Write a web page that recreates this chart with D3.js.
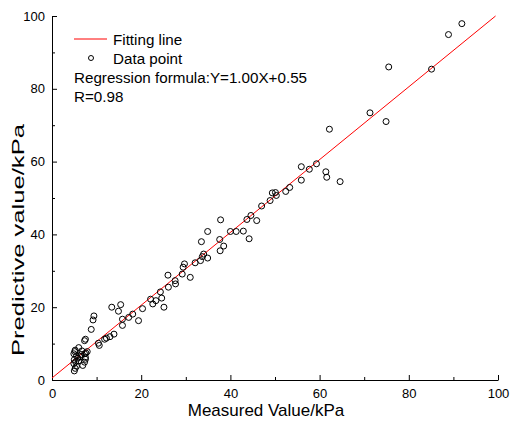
<!DOCTYPE html>
<html>
<head>
<meta charset="utf-8">
<script src="https://cdn.jsdelivr.net/npm/d3@7"></script>
<style>
  html, body { margin: 0; padding: 0; background: #fff; }
  svg { display: block; font-family: "Liberation Sans", Arial, sans-serif; }
</style>
</head>
<body>
<svg id="chart" width="514" height="426"></svg>
<script>
// measured / predictive values (kPa)
const measured = [
    91.9, 88.9, 75.5, 85.1, 71.3, 74.9,
    62.2, 59.3, 55.9, 57.7, 61.4, 61.6, 55.9, 64.6, 53.3, 52.4,
    49.4, 50.1, 50.3, 48.9, 47.0, 44.6, 43.7, 45.9, 37.8,
    34.9, 40.0, 41.3, 42.9, 37.6, 44.2, 38.5, 37.7, 33.5,
    34.0, 34.9, 33.7, 33.3,
    32.1, 29.7, 29.4, 29.2, 31.0, 26.0, 27.6, 27.7, 26.1, 24.3, 24.6, 23.3, 22.1, 22.6, 25.1,
    20.3, 18.1, 17.2, 15.8, 19.4, 15.8, 15.4, 14.9, 13.4,
    13.9, 13.0, 12.2, 11.8, 10.6, 10.4, 9.4, 9.2, 8.8, 7.3, 7.5,
    5.0, 5.2, 5.5, 4.9, 5.3, 6.0, 5.0, 6.9, 7.3, 7.5, 6.3, 5.5, 4.9, 7.6, 7.3,
    6.7, 5.2, 6.0, 5.1, 7.5, 5.8, 6.5, 7.9
];
const predicted = [
    97.9, 94.9, 86.0, 85.4, 73.4, 71.0,
    68.9, 59.4, 58.6, 57.9, 57.2, 55.7, 54.9, 54.5, 52.9, 51.8,
    51.4, 51.5, 50.7, 49.3, 47.8, 45.2, 44.1, 43.8, 44.0,
    40.8, 40.8, 40.8, 40.9, 38.6, 38.8, 36.8, 35.5, 38.0,
    34.6, 33.5, 33.9, 32.8,
    32.2, 31.9, 31.0, 29.1, 28.2, 28.8, 27.3, 26.4, 25.5, 24.2, 22.5, 21.8, 22.2, 20.9, 20.0,
    19.6, 18.1, 17.2, 16.7, 16.3, 15.0, 20.7, 18.9, 20.0,
    12.6, 11.9, 11.5, 11.2, 9.5, 10.1, 17.6, 16.5, 13.9, 10.8, 11.2,
    2.5, 3.2, 3.8, 4.5, 5.0, 5.3, 5.6, 4.0, 4.9, 5.7, 6.4, 6.6, 7.2, 7.4, 7.2,
    8.0, 8.2, 8.9, 7.8, 6.2, 6.0, 7.0, 7.8
];
const fitSlope = 1.00;
const fitIntercept = 0.55;
const rValue = 0.98;
const xTicks = [0, 20, 40, 60, 80, 100];
const yTicks = [0, 20, 40, 60, 80, 100];
const minorTicks = [10, 30, 50, 70, 90];

const svg = d3.select('#chart');

const x = d3.scaleLinear().domain([0, 100]).range([52, 498]);
const y = d3.scaleLinear().domain([0, 100]).range([380, 16]);

// axes (ticks point inward)
svg.append('g')
    .attr('transform', 'translate(0,' + y(0) + ')')
    .call(d3.axisBottom(x).tickValues(xTicks).tickSizeInner(-5).tickSizeOuter(0).tickPadding(9))
    .call(g => g.selectAll('text').attr('font-size', 13).attr('fill', '#000'))
    .call(g => g.selectAll('line, path').attr('stroke', '#000'));

svg.append('g')
    .attr('transform', 'translate(0,' + y(0) + ')')
    .call(d3.axisBottom(x).tickValues(minorTicks).tickSizeInner(-3).tickSizeOuter(0).tickFormat(''))
    .call(g => g.select('.domain').remove())
    .call(g => g.selectAll('line').attr('stroke', '#000'));

svg.append('g')
    .attr('transform', 'translate(' + x(0) + ',0)')
    .call(d3.axisLeft(y).tickValues(yTicks).tickSizeInner(-5).tickSizeOuter(0).tickPadding(7))
    .call(g => g.selectAll('text').attr('font-size', 13).attr('fill', '#000'))
    .call(g => g.selectAll('line, path').attr('stroke', '#000'));

svg.append('g')
    .attr('transform', 'translate(' + x(0) + ',0)')
    .call(d3.axisLeft(y).tickValues(minorTicks).tickSizeInner(-3).tickSizeOuter(0).tickFormat(''))
    .call(g => g.select('.domain').remove())
    .call(g => g.selectAll('line').attr('stroke', '#000'));

svg.selectAll('.domain').attr('stroke-width', 1);

// fitting line, up to where it reaches the top of the axis
const xEnd = (100 - fitIntercept) / fitSlope;
svg.append('line')
    .attr('x1', x(0)).attr('y1', y(fitIntercept))
    .attr('x2', x(xEnd)).attr('y2', y(fitSlope * xEnd + fitIntercept))
    .attr('stroke', '#ff0000')
    .attr('stroke-width', 1);

// data points
svg.append('g')
    .selectAll('circle')
    .data(d3.range(measured.length))
    .join('circle')
    .attr('cx', i => x(measured[i]))
    .attr('cy', i => y(predicted[i]))
    .attr('r', 3)
    .attr('fill', 'none')
    .attr('stroke', '#000')
    .attr('stroke-width', 1);

// legend
const legend = svg.append('g').attr('font-size', 15.2);
legend.append('line')
    .attr('x1', 74).attr('x2', 107).attr('y1', 39).attr('y2', 39)
    .attr('stroke', '#ff0000');
legend.append('text').attr('x', 113).attr('y', 45).text('Fitting line');
legend.append('circle')
    .attr('cx', 91).attr('cy', 58).attr('r', 2.5)
    .attr('fill', 'none').attr('stroke', '#000');
legend.append('text').attr('x', 113).attr('y', 64).text('Data point');
legend.append('text').attr('x', 74).attr('y', 83)
    .text('Regression formula:Y=' + fitSlope.toFixed(2) + 'X+' + fitIntercept.toFixed(2));
legend.append('text').attr('x', 74).attr('y', 102).text('R=' + rValue.toFixed(2));

// axis titles
svg.append('text')
    .attr('x', 266).attr('y', 416)
    .attr('text-anchor', 'middle')
    .attr('font-size', 17)
    .text('Measured Value/kPa');

svg.append('text')
    .attr('transform', 'translate(24,240) rotate(-90)')
    .attr('text-anchor', 'middle')
    .attr('font-size', 16)
    .attr('textLength', 232)
    .attr('lengthAdjust', 'spacingAndGlyphs')
    .text('Predictive value/kPa');
</script>
</body>
</html>
